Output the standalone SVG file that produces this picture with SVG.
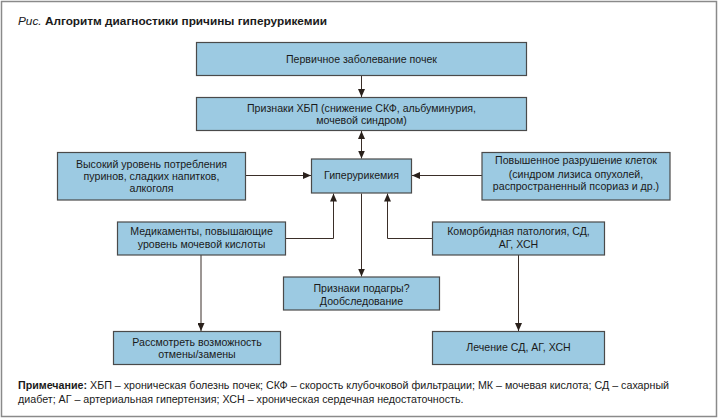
<svg xmlns="http://www.w3.org/2000/svg" width="720" height="420" viewBox="0 0 720 420">
<defs>
<marker id="ah" markerUnits="userSpaceOnUse" markerWidth="8" markerHeight="7" refX="8" refY="3.5" orient="auto-start-reverse">
<path d="M0,0 L8,3.5 L0,7 z" fill="#2a211c"/>
</marker>
</defs>
<style>
.box{fill:#9ccae2;stroke:#4a4a4a;stroke-width:1.2}
.t{font-family:"Liberation Sans",Arial,sans-serif;font-size:10.6px;fill:#1a1a1a;text-anchor:middle}
.c{fill:none;stroke:#3a2e28;stroke-width:1}
.n{font-family:"Liberation Sans",Arial,sans-serif;font-size:10.7px;fill:#1a1a1a}
</style>
<rect x="0" y="0" width="720" height="420" fill="#ffffff"/>
<rect x="1.5" y="1.5" width="715" height="415" fill="#ffffff" stroke="#8a8a8a" stroke-width="1.5"/>
<text x="18" y="25" class="n" style="font-size:11.8px"><tspan font-style="italic">Рис.</tspan> <tspan font-weight="bold">Алгоритм диагностики причины гиперурикемии</tspan></text>

<g id="connectors">
<line class="c" x1="361.5" y1="75.5" x2="361.5" y2="97" marker-end="url(#ah)"/>
<line class="c" x1="361.5" y1="131" x2="361.5" y2="158.5" marker-start="url(#ah)" marker-end="url(#ah)"/>
<line class="c" x1="246" y1="175.5" x2="311" y2="175.5" marker-end="url(#ah)"/>
<line class="c" x1="482" y1="175.5" x2="412" y2="175.5" marker-end="url(#ah)"/>
<path class="c" d="M285.5,238.5 H333.5 V193.5" marker-end="url(#ah)"/>
<path class="c" d="M432.5,238.5 H387.5 V193.5" marker-end="url(#ah)"/>
<line class="c" x1="361.5" y1="193.5" x2="361.5" y2="276.5" marker-end="url(#ah)"/>
<line class="c" x1="201" y1="255" x2="201" y2="331" marker-end="url(#ah)"/>
<line class="c" x1="518.5" y1="255" x2="518.5" y2="331" marker-end="url(#ah)"/>
</g>

<g id="n1">
<rect class="box" x="196.5" y="42.5" width="330" height="33"/>
<text class="t" x="361.5" y="62.5">Первичное заболевание почек</text>
</g>
<g id="n2">
<rect class="box" x="196.5" y="97.5" width="330" height="33"/>
<text class="t" x="361.5" y="111.5">Признаки ХБП (снижение СКФ, альбуминурия,</text>
<text class="t" x="361.5" y="124">мочевой синдром)</text>
</g>
<g id="n3">
<rect class="box" x="311.5" y="159" width="100" height="34"/>
<text class="t" x="361.5" y="179">Гиперурикемия</text>
</g>
<g id="n4">
<rect class="box" x="57.5" y="152.5" width="188" height="47.5"/>
<text class="t" x="151.5" y="167.5">Высокий уровень потребления</text>
<text class="t" x="151.5" y="179.5">пуринов, сладких напитков,</text>
<text class="t" x="151.5" y="191.5">алкоголя</text>
</g>
<g id="n5">
<rect class="box" x="482" y="152.5" width="188" height="47.5"/>
<text class="t" x="576" y="163.5">Повышенное разрушение клеток</text>
<text class="t" x="576" y="177.5">(синдром лизиса опухолей,</text>
<text class="t" x="576" y="189.5">распространенный псориаз и др.)</text>
</g>
<g id="n6">
<rect class="box" x="117.5" y="222" width="168" height="33"/>
<text class="t" x="201.5" y="234.5">Медикаменты, повышающие</text>
<text class="t" x="201.5" y="247.5">уровень мочевой кислоты</text>
</g>
<g id="n7">
<rect class="box" x="432.5" y="222" width="172" height="33"/>
<text class="t" x="518.5" y="234.5">Коморбидная патология, СД,</text>
<text class="t" x="518.5" y="247.5">АГ, ХСН</text>
</g>
<g id="n8">
<rect class="box" x="283.5" y="277" width="156" height="33"/>
<text class="t" x="361.5" y="292">Признаки подагры?</text>
<text class="t" x="361.5" y="304.5">Дообследование</text>
</g>
<g id="n9">
<rect class="box" x="113.5" y="331.5" width="167" height="33"/>
<text class="t" x="197" y="345.5">Рассмотреть возможность</text>
<text class="t" x="197" y="357.5">отмены/замены</text>
</g>
<g id="n10">
<rect class="box" x="432.5" y="331.5" width="172" height="33"/>
<text class="t" x="518.5" y="351">Лечение СД, АГ, ХСН</text>
</g>

<text class="n" x="18" y="388.5"><tspan font-weight="bold">Примечание:</tspan>  ХБП – хроническая болезнь почек; СКФ – скорость клубочковой фильтрации; МК – мочевая кислота; СД – сахарный</text>
<text class="n" x="18" y="403">диабет; АГ – артериальная гипертензия; ХСН – хроническая сердечная недостаточность.</text>
</svg>
